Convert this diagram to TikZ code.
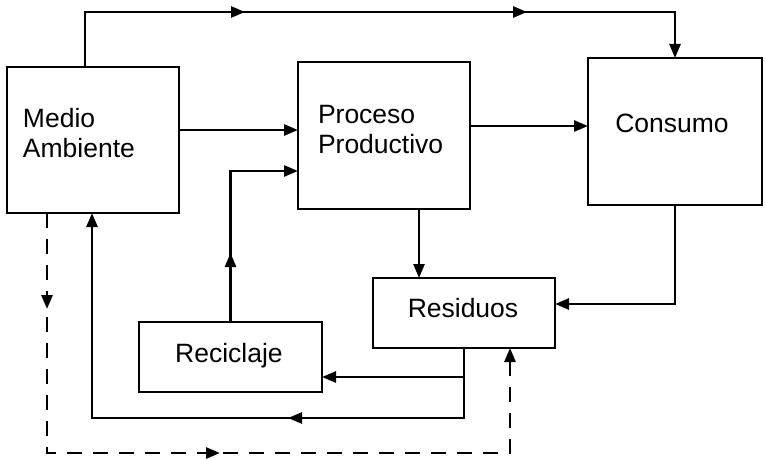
\documentclass[tikz,border=0pt]{standalone}
\usepackage{fontspec}
\setmainfont{Liberation Sans}
\usetikzlibrary{arrows.meta,decorations.markings}
\begin{document}
\begin{tikzpicture}[x=1pt,y=-1pt,
  >={Triangle[length=14pt,width=11pt]},
  box/.style={draw,line width=2.8pt,inner sep=0pt,outer sep=0pt},
  lbl/.style={inner sep=0pt,outer sep=0pt,font=\fontsize{26.5}{30}\selectfont},
  flow/.style={draw,line width=2.6pt},
  dflow/.style={draw,line width=2.6pt,dash pattern=on 15pt off 11pt},
  mid/.style={postaction={decorate,decoration={markings,mark=at position #1 with {\arrow{>}}}}}
]
\useasboundingbox (0,0) rectangle (766,460);
% boxes
\node[box,minimum width=172pt,minimum height=146pt] (ma) at (93,140) {};
\node[box,minimum width=172pt,minimum height=147pt] (pp) at (384,135.5) {};
\node[box,minimum width=174pt,minimum height=147pt] (co) at (675,131.5) {};
\node[box,minimum width=182pt,minimum height=70pt] (re) at (464,313) {};
\node[box,minimum width=183pt,minimum height=70pt] (rc) at (230.5,357) {};
% texts
\node[lbl,anchor=base west,align=left] (tma) at (23,157) {Medio\\Ambiente};
\node[lbl,anchor=base west,align=left] (tpp) at (318,153) {Proceso\\Productivo};
\node[lbl,anchor=base] (tco) at (672,132) {Consumo};
\node[lbl,anchor=base] (tre) at (463,317) {Residuos};
\node[lbl,anchor=base] (trc) at (229,362) {Reciclaje};
% helper coordinates
\coordinate (top) at (85,12);
\coordinate (pin2) at ([yshift=-35.5pt]pp.west);
\coordinate (rin) at ([yshift=9pt]re.east);
\coordinate (rcin) at ([yshift=-20pt]rc.east);
\coordinate (bl) at (92,418);
\coordinate (d1) at (47,453);
\coordinate (d2) at (510,453);
% connectors
\draw[flow,->,mid=215pt,mid=497pt] (top |- ma.north) -- (top) -- (top -| co.north) -- (co.north);
\draw[flow,->] ([yshift=10pt]ma.east) -- ([yshift=10pt]ma.east -| pp.west);
\draw[flow,->,mid=69pt] (rc.north) -- (rc.north |- pin2) -- (pin2);
\draw[flow,->] ([yshift=9.5pt]pp.east) -- ([yshift=9.5pt]pp.east -| co.west);
\draw[flow,->] ([xshift=35pt]pp.south) -- ([xshift=35pt]pp.south |- re.north);
\draw[flow,->] (co.south) -- (co.south |- rin) -- (rin);
\draw[flow,->] (re.south) -- (re.south |- rcin) -- (rcin);
\draw[flow,->,mid=246pt] (re.south) -- (re.south |- bl) -- (bl) -- (bl |- ma.south);
\draw[dflow,->,mid=96pt,mid=413pt] (d1 |- ma.south) -- (d1) -- (d2) -- (d2 |- re.south);
\end{tikzpicture}
\end{document}
